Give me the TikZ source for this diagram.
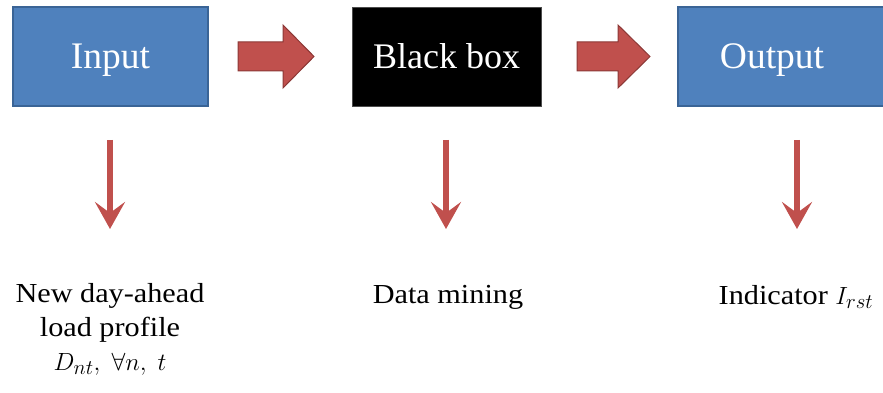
\documentclass[tikz,border=0pt]{standalone}
\usepackage{fontspec}
\setmainfont{Liberation Serif}
\newfontfamily\widecaptionfont[FakeStretch=1.1]{Liberation Serif}
\usetikzlibrary{arrows.meta}

\definecolor{boxblue}{HTML}{4F81BD}
\definecolor{boxblueline}{HTML}{3A6496}
\definecolor{arrowred}{HTML}{C0504D}
\definecolor{arrowredline}{HTML}{8C3836}

% larger maths inside captions
\newcommand{\capmath}[1]{{\fontsize{30.5}{34}\selectfont$#1$}}

\tikzset{
  stage/.style={minimum width=195pt, minimum height=99pt, inner sep=0pt,
    text=white, font=\fontsize{37.5}{44}\selectfont,
    text height=32pt, text depth=7pt},
  bluestage/.style={stage, fill=boxblue, draw=boxblueline, line width=1.5pt},
  blackstage/.style={stage, fill=black, draw=black!70, line width=0.6pt,
    minimum width=189pt, font=\fontsize{36}{44}\selectfont},
  stagetext/.style={inner sep=0pt, text=white,
    font=\fontsize{37.5}{44}\selectfont, text height=32pt, text depth=7pt},
  blockarrow/.style={fill=arrowred, draw=arrowredline, line width=1pt,
    line join=miter},
  downarrow/.style={draw=arrowred, line width=6pt,
    -{Stealth[length=27pt, width=30pt, inset=11pt]}},
  caption/.style={inner sep=0pt, align=center, text=black,
    font=\widecaptionfont\fontsize{27.5}{34}\selectfont}
}

\begin{document}
\begin{tikzpicture}[x=1pt, y=-1pt]
  \useasboundingbox (0,0) rectangle (883,393);

  % the three stages
  \node[bluestage]  (in)  at (110.5,56.5) {Input};
  \node[blackstage] (bb)  at (446.5,56.5) {Black box};
  \node[bluestage, minimum width=214pt] (out) at (785,56.5) {};
  \node[stagetext]  (outt) at (772,56.5) {Output};

  % block arrows between the stages
  \draw[blockarrow] (238,42) -- (283,42) -- (283,25) -- (314,56.5)
    -- (283,88) -- (283,71) -- (238,71) -- cycle;
  \draw[blockarrow] (577,42) -- (618,42) -- (618,25) -- (650,56.5)
    -- (618,88) -- (618,71) -- (577,71) -- cycle;

  % captions under each stage
  \node[caption, anchor=north] (inc) at (110,283.5)
    {New day-ahead\\load profile\\\capmath{D_{nt},\;\forall n,\; t}};
  \node[caption, anchor=base] (bbc) at (448,303) {Data mining};
  \node[caption, anchor=base] (outc) at (796,304)
    {Indicator \capmath{I_{rst}}};

  % downward arrows from stage to caption
  \coordinate (ina) at (110,140);
  \coordinate (inb) at (110,229);
  \coordinate (bba) at (446,140);
  \coordinate (bbb) at (446,229);
  \coordinate (outa) at (797,140);
  \coordinate (outb) at (797,229);
  \draw[downarrow] (ina) -- (inb);
  \draw[downarrow] (bba) -- (bbb);
  \draw[downarrow] (outa) -- (outb);
\end{tikzpicture}
\end{document}
